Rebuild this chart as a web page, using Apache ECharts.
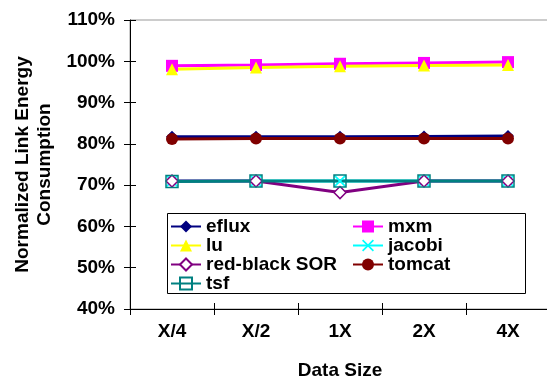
<!DOCTYPE html>
<html>
<head>
<meta charset="utf-8">
<script src="https://cdn.jsdelivr.net/npm/echarts@6/dist/echarts.min.js"></script>
<style>
  html, body { margin: 0; padding: 0; background: #fff; }
  #chart { width: 547px; height: 379px; }
</style>
</head>
<body>
<div id="chart"></div>
<script>
// Data size categories on the x axis
const categories = ['X/4', 'X/2', '1X', '2X', '4X'];

// Normalized link energy consumption (%) per benchmark
const eflux       = [81.7, 81.7, 81.7, 81.8, 81.9];
const mxm         = [98.9, 99.1, 99.4, 99.6, 99.8];
const lu          = [98.1, 98.5, 98.8, 99.0, 99.1];
const jacobi      = [71.0, 71.0, 71.0, 71.0, 71.0];
const redBlackSOR = [71.0, 71.0, 68.2, 71.0, 71.0];
const tomcat      = [81.2, 81.3, 81.3, 81.3, 81.3];
const tsf         = [70.9, 71.0, 71.0, 71.0, 71.0];

const FONT = 'Liberation Sans, Arial, Helvetica, sans-serif';
const crossPath = 'path://M0,1L1,0L5,4L9,0L10,1L6,5L10,9L9,10L5,6L1,10L0,9L4,5Z';

function lineSeries(name, data, color, symbol, itemStyle) {
  return {
    name: name,
    type: 'line',
    data: data,
    symbol: symbol,
    symbolSize: 12,
    lineStyle: { color: color, width: 3 },
    itemStyle: Object.assign({ color: color }, itemStyle || {}),
    emphasis: { disabled: true }
  };
}

const chart = echarts.init(document.getElementById('chart'), null, { renderer: 'canvas' });

const legendCommon = {
  orient: 'vertical',
  top: 217,
  padding: 0,
  itemGap: 0,
  itemWidth: 30,
  itemHeight: 15,
  z: 10,
  selectedMode: false,
  textStyle: { fontFamily: FONT, fontSize: 19, fontWeight: 'bold', color: '#000', lineHeight: 19 }
};

chart.setOption({
  animation: false,
  backgroundColor: '#fff',
  grid: {
    left: 130, top: 20, width: 420, height: 289,
    outerBoundsMode: 'none',
    containLabel: false,
    show: true, borderColor: '#999', borderWidth: 1, backgroundColor: 'transparent'
  },
  graphic: [{
    type: 'rect',
    left: 167, top: 213,
    shape: { width: 358, height: 80 },
    style: { fill: '#fff', stroke: '#000', lineWidth: 1 },
    z: 1
  }],
  legend: [
    Object.assign({}, legendCommon, { left: 170, data: ['eflux', 'lu', 'red-black SOR', 'tsf'] }),
    Object.assign({}, legendCommon, { left: 352, data: ['mxm', 'jacobi', 'tomcat'] })
  ],
  xAxis: [{
    type: 'category',
    data: categories,
    boundaryGap: true,
    name: 'Data Size',
    nameLocation: 'middle',
    nameGap: 52,
    nameTextStyle: { fontFamily: FONT, fontSize: 19, fontWeight: 'bold', color: '#000' },
    axisLine: { lineStyle: { color: '#000', width: 1 } },
    axisTick: { show: true, length: 6, lineStyle: { color: '#000' } },
    axisLabel: { margin: 13, fontFamily: FONT, fontSize: 19, fontWeight: 'bold', color: '#000' },
    splitLine: { show: false }
  }, {
    type: 'category',
    data: categories,
    position: 'bottom',
    boundaryGap: true,
    axisLine: { show: false },
    axisTick: { show: true, inside: true, length: 6, lineStyle: { color: '#000' } },
    axisLabel: { show: false },
    splitLine: { show: false }
  }],
  yAxis: [{
    type: 'value',
    min: 40, max: 110, interval: 10,
    name: 'Normalized Link Energy\nConsumption',
    nameLocation: 'middle',
    nameRotate: 90,
    nameGap: 71,
    nameTextStyle: { fontFamily: FONT, fontSize: 19, fontWeight: 'bold', color: '#000', lineHeight: 22 },
    axisLine: { show: true, lineStyle: { color: '#000', width: 1 } },
    axisTick: { show: true, length: 6, lineStyle: { color: '#000' } },
    axisLabel: { margin: 15, formatter: '{value}%', fontFamily: FONT, fontSize: 19, fontWeight: 'bold', color: '#000' },
    splitLine: { show: false }
  }, {
    type: 'value',
    min: 40, max: 110, interval: 10,
    position: 'left',
    axisLine: { show: false },
    axisTick: { show: true, inside: true, length: 6, lineStyle: { color: '#000' } },
    axisLabel: { show: false },
    splitLine: { show: false }
  }],
  series: [
    lineSeries('eflux', eflux, '#000080', 'diamond'),
    lineSeries('mxm', mxm, '#FF00FF', 'rect'),
    lineSeries('lu', lu, '#FFFF00', 'triangle'),
    lineSeries('jacobi', jacobi, '#00FFFF', crossPath),
    lineSeries('red-black SOR', redBlackSOR, '#800080', 'diamond',
      { color: '#fff', borderColor: '#800080', borderWidth: 1.5 }),
    lineSeries('tomcat', tomcat, '#800000', 'circle'),
    lineSeries('tsf', tsf, '#008080', 'rect',
      { color: 'rgba(255,255,255,0)', borderColor: '#008080', borderWidth: 1.5 })
  ]
});
</script>
</body>
</html>
